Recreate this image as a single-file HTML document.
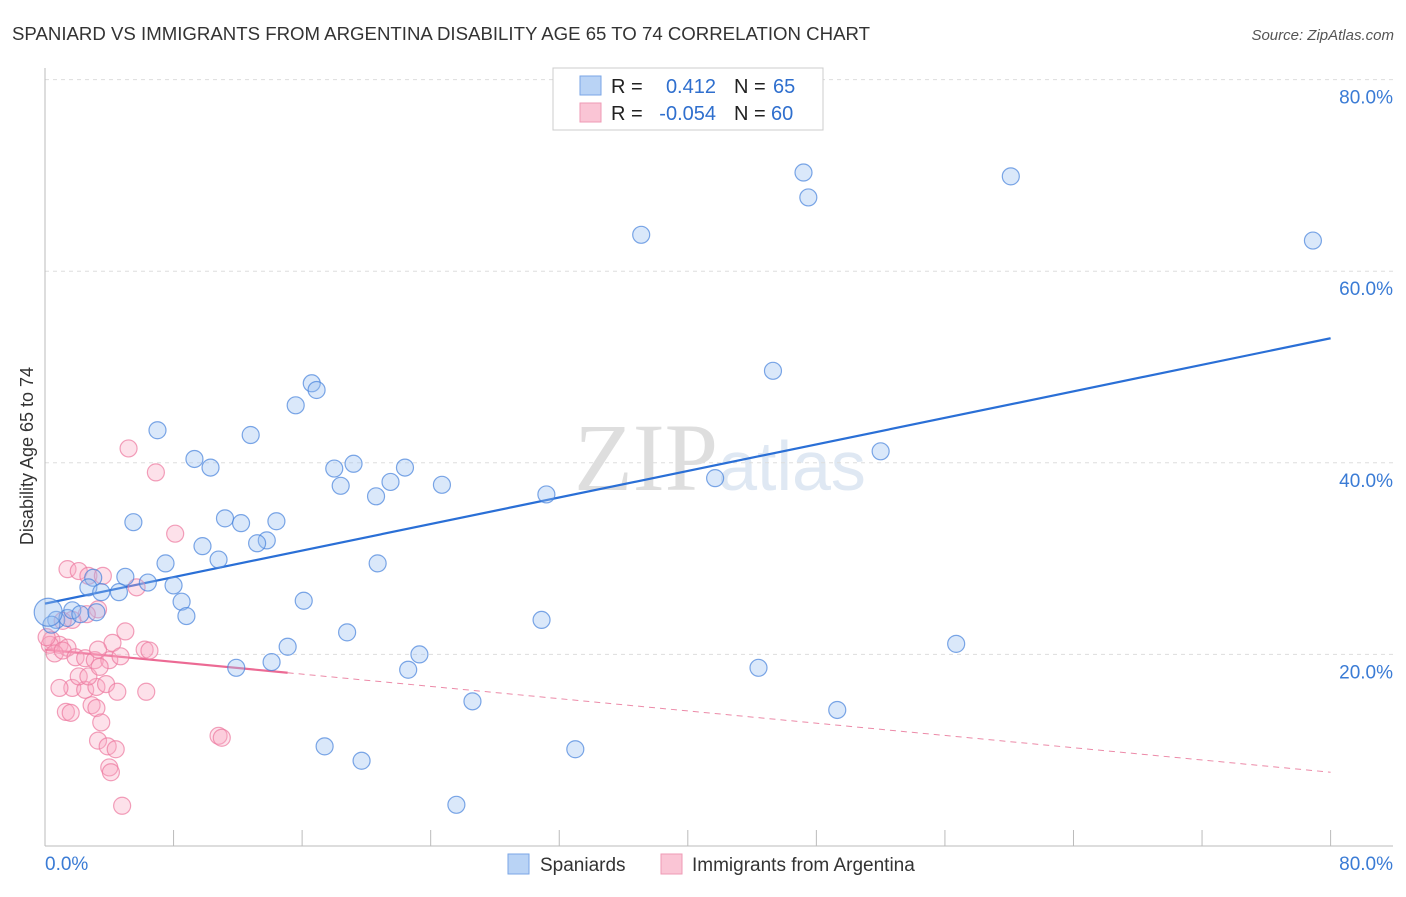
<!DOCTYPE html>
<html><head><meta charset="utf-8"><style>
body{margin:0;background:#fff;font-family:"Liberation Sans",sans-serif;}
svg text{font-family:"Liberation Sans",sans-serif;}
</style></head><body>
<svg id="chart" width="1406" height="892">
<text x="12" y="40" font-size="18.5" fill="#333" textLength="858" lengthAdjust="spacingAndGlyphs">SPANIARD VS IMMIGRANTS FROM ARGENTINA DISABILITY AGE 65 TO 74 CORRELATION CHART</text>
<text x="1394" y="40" font-size="15" fill="#555" font-style="italic" text-anchor="end">Source: ZipAtlas.com</text>
<text x="720" y="490" font-size="96" fill="#e4e4e4" text-anchor="middle" font-family="Liberation Serif"><tspan font-family="Liberation Serif" fill="#dedede">ZIP</tspan><tspan font-family="Liberation Sans" fill="#dfe8f3" font-size="70">atlas</tspan></text>
<text transform="translate(33,456) rotate(-90)" font-size="18" fill="#333" text-anchor="middle">Disability Age 65 to 74</text>
<g id="grid"></g><g id="axes"></g><g id="trend"></g><g id="pts"></g>
<g>
<rect x="553" y="68" width="270" height="62" fill="#fff" stroke="#ccc"/>
<rect x="580" y="76" width="21" height="19" fill="#b9d3f5" stroke="#7aa6e6"/>
<rect x="580" y="103" width="21" height="19" fill="#fac5d5" stroke="#ef9ab5"/>
<text x="611" y="93" font-size="20" fill="#222">R = </text><text x="716" y="93" font-size="20" fill="#2f6fce" text-anchor="end">0.412</text>
<text x="734" y="93" font-size="20" fill="#222">N = </text><text x="773" y="93" font-size="20" fill="#2f6fce">65</text>
<text x="611" y="120" font-size="20" fill="#222">R = </text><text x="716" y="120" font-size="20" fill="#2f6fce" text-anchor="end">-0.054</text>
<text x="734" y="120" font-size="20" fill="#222">N = </text><text x="771" y="120" font-size="20" fill="#2f6fce">60</text>
</g>
<g>
<rect x="508" y="854" width="21" height="20" fill="#b9d3f5" stroke="#7aa6e6"/>
<text x="540" y="871" font-size="19" fill="#333">Spaniards</text>
<rect x="661" y="854" width="21" height="20" fill="#fac5d5" stroke="#ef9ab5"/>
<text x="692" y="871" font-size="19" fill="#333">Immigrants from Argentina</text>
</g>
</svg>
<script>
const yTicks=[20,40,60,80];
const yTickLabels=["20.0%","40.0%","60.0%","80.0%"];
const xTickLabels=["0.0%","80.0%"];
const blueX=[47.2,47.5,60.1,37.1,78.9,45.3,16.6,16.9,15.6,52.0,7.0,12.8,9.3,10.3,18.0,19.2,22.4,18.4,21.5,20.6,24.7,31.2,41.7,11.2,12.2,5.5,14.4,13.8,13.2,9.8,10.8,7.5,20.7,5.0,6.4,8.0,3.0,2.7,3.5,4.6,8.5,8.8,16.1,30.9,18.8,15.1,23.3,56.7,11.9,14.1,22.6,44.4,26.6,49.3,17.4,33.0,19.7,25.6,0.7,1.4,1.7,2.2,3.2,0.4];
const blueY=[70.3,67.7,69.9,63.8,63.2,49.6,48.3,47.6,46.0,41.2,43.4,42.9,40.4,39.5,39.4,39.9,39.5,37.6,38.0,36.5,37.7,36.7,38.4,34.2,33.7,33.8,33.9,31.9,31.6,31.3,29.9,29.5,29.5,28.1,27.5,27.2,28.0,27.0,26.5,26.5,25.5,24.0,25.6,23.6,22.3,20.8,20.0,21.1,18.6,19.2,18.4,18.6,15.1,14.2,10.4,10.1,8.9,4.3,23.6,23.8,24.6,24.2,24.4,23.1];
const bigBlueX=[0.2], bigBlueY=[24.4];
const pinkX=[5.2,6.9,8.1,1.4,2.1,2.7,3.6,5.7,3.3,2.6,1.7,1.1,0.4,0.9,0.3,1.4,0.6,1.1,4.2,5.0,1.9,2.5,3.1,4.0,4.7,6.2,6.5,1.7,2.5,3.2,2.1,2.7,3.8,4.5,6.3,3.4,1.3,1.6,2.9,3.2,3.5,3.3,3.9,4.4,4.0,4.1,4.8,10.8,11.0,0.9,3.3,0.1];
const pinkY=[41.5,39.0,32.6,28.9,28.7,28.2,28.2,27.0,24.7,24.2,23.6,23.5,21.5,21.0,21.0,20.7,20.1,20.4,21.2,22.4,19.7,19.6,19.4,19.4,19.8,20.5,20.4,16.5,16.3,16.6,17.7,17.7,16.9,16.1,16.1,18.7,14.0,13.9,14.7,14.4,12.9,11.0,10.4,10.1,8.2,7.7,4.2,11.5,11.3,16.5,20.5,21.8];
const blueTrend=[25.3,53.0];
const pinkTrend=[20.5,7.7];
const pinkSolidEnd=15.1;
const X=v=>45+v*16.07, Y=v=>846-v*9.58;
const NS="http://www.w3.org/2000/svg";
function mk(p,tag,at){const e=document.createElementNS(NS,tag);for(const k in at)e.setAttribute(k,at[k]);p.appendChild(e);return e;}
const grid=document.getElementById('grid'),axes=document.getElementById('axes'),tr=document.getElementById('trend'),pts=document.getElementById('pts');
yTicks.forEach((t,i)=>{
 const l=mk(grid,'line',{x1:45,x2:1393,y1:Y(t),y2:Y(t),stroke:'#ddd','stroke-dasharray':'4,4'});
 
 
 const tx=mk(axes,'text',{x:1393,y:Y(t)+24,'font-size':19,fill:'#3a7bd5','text-anchor':'end'});
 tx.textContent=yTickLabels[i];
 
 
});
const la=mk(axes,'line',{x1:45,x2:45,y1:68,y2:846,stroke:'#bbb'});


const ba=mk(axes,'line',{x1:45,x2:1393,y1:846,y2:846,stroke:'#bbb'});


for(let i=1;i<=10;i++){const t=mk(axes,'line',{x1:X(i*8),x2:X(i*8),y1:830,y2:846,stroke:'#bbb'});
 
 }
[[0,'start',45],[1,'end',1393]].forEach(([i,a,x])=>{const t=mk(axes,'text',{x:x,y:870,'font-size':19,fill:'#3a7bd5','text-anchor':a});t.textContent=xTickLabels[i];
 
 });
const bl=mk(tr,'line',{x1:X(0),y1:Y(blueTrend[0]),x2:X(80),y2:Y(blueTrend[1]),stroke:'#2a6fd6','stroke-width':2.2});


const pv=x=>pinkTrend[0]+(pinkTrend[1]-pinkTrend[0])*x/80;
const ps=mk(tr,'line',{x1:X(0),y1:Y(pv(0)),x2:X(pinkSolidEnd),y2:Y(pv(pinkSolidEnd)),stroke:'#ec6a94','stroke-width':2.2});


const pd=mk(tr,'line',{x1:X(pinkSolidEnd),y1:Y(pv(pinkSolidEnd)),x2:X(80),y2:Y(pv(80)),stroke:'#ec8aa8','stroke-width':1,'stroke-dasharray':'6,5'});


pinkX.forEach((x,i)=>{const c=mk(pts,'circle',{cx:X(x),cy:Y(pinkY[i]),r:8.5,fill:'rgba(248,170,195,0.35)',stroke:'rgba(236,120,158,0.7)','stroke-width':1.2});
 
 });
blueX.forEach((x,i)=>{const c=mk(pts,'circle',{cx:X(x),cy:Y(blueY[i]),r:8.5,fill:'rgba(150,190,240,0.35)',stroke:'rgba(70,130,220,0.7)','stroke-width':1.2});
 
 });
bigBlueX.forEach((x,i)=>{const c=mk(pts,'circle',{cx:X(x),cy:Y(bigBlueY[i]),r:14,fill:'rgba(150,190,240,0.4)',stroke:'rgba(70,130,220,0.7)','stroke-width':1.2});
 
 });
</script>
</body></html>
